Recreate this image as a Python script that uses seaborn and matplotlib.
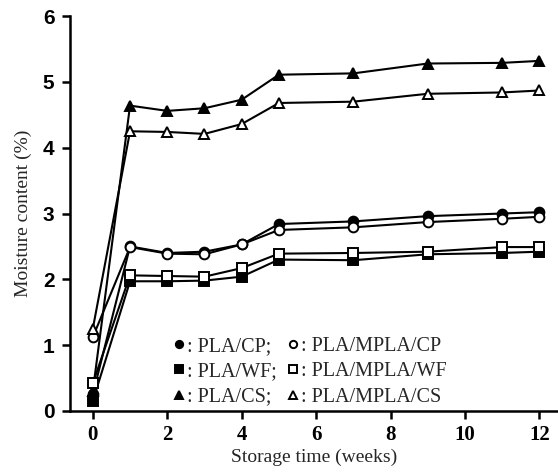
import numpy as np
import pandas as pd
import matplotlib
matplotlib.use("Agg")
import matplotlib.pyplot as plt
import seaborn as sns

weeks = [0, 1, 2, 3, 4, 5, 7, 9, 11, 12]

pla_cp = [0.25, 2.50, 2.40, 2.42, 2.53, 2.84, 2.88, 2.96, 3.00, 3.02]
pla_wf = [0.15, 1.97, 1.97, 1.98, 2.04, 2.30, 2.29, 2.38, 2.40, 2.42]
pla_cs = [0.30, 4.64, 4.56, 4.60, 4.73, 5.11, 5.13, 5.28, 5.29, 5.32]
mpla_cp = [1.12, 2.49, 2.39, 2.38, 2.53, 2.75, 2.79, 2.87, 2.92, 2.95]
mpla_wf = [0.42, 2.06, 2.05, 2.04, 2.17, 2.39, 2.40, 2.42, 2.49, 2.49]
mpla_cs = [1.25, 4.25, 4.24, 4.21, 4.36, 4.68, 4.70, 4.82, 4.84, 4.87]

series = [
    (": PLA/CP;", pla_cp, "o", "black"),
    (": PLA/WF;", pla_wf, "s", "black"),
    (": PLA/CS;", pla_cs, "^", "black"),
    (": PLA/MPLA/CP", mpla_cp, "o", "white"),
    (": PLA/MPLA/WF", mpla_wf, "s", "white"),
    (": PLA/MPLA/CS", mpla_cs, "^", "white"),
]

sns.set_style("ticks")
plt.rcParams["font.family"] = ["Liberation Serif", "DejaVu Serif"]

fig = plt.figure(figsize=(5.58, 4.75), dpi=100)
ax = fig.add_axes([0.125, 0.135, 0.875, 0.831])

for label, vals, mk, fc in series:
    df = pd.DataFrame({"week": weeks, "moisture": vals})
    sns.lineplot(data=df, x="week", y="moisture", ax=ax, color="black",
                 linewidth=1.5, marker=mk, markersize=7, markerfacecolor=fc,
                 markeredgecolor="black", markeredgewidth=1.4, label=label,
                 clip_on=False, zorder=3)

ax.set_xlim(-0.62, 12.5)
ax.set_ylim(0, 6)
ax.set_xticks(range(0, 13, 2))
ax.set_yticks(range(0, 7))
sns.despine(ax=ax)
for sp in ["left", "bottom"]:
    ax.spines[sp].set_linewidth(1.8)
    ax.spines[sp].set_color("black")
ax.tick_params(axis="both", direction="out", length=6, width=1.8, colors="black")
ax.tick_params(axis="y", pad=5)
ax.tick_params(axis="x", pad=4)
for t in ax.get_xticklabels():
    t.set_fontsize(15)
    t.set_fontweight("bold")
for t in ax.get_yticklabels():
    t.set_fontfamily("Liberation Sans")
    t.set_fontsize(15)
    t.set_fontweight("bold")

ax.set_xlabel("Storage time (weeks)", fontsize=14, labelpad=3)
ax.set_ylabel("Moisture content (%)", fontsize=14, labelpad=8)

leg = ax.legend(ncol=2, loc="lower left", bbox_to_anchor=(0.175, -0.035),
                frameon=False, fontsize=14.5, handlelength=0.55, handletextpad=0.15,
                columnspacing=0.5, labelspacing=0.3, markerscale=0.75)
for h in leg.get_lines():
    h.set_linestyle("none")

fig.savefig("out.png", dpi=100)
